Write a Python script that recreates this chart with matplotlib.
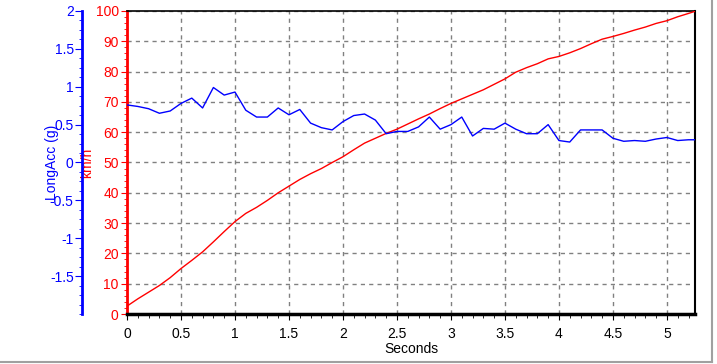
import matplotlib.pyplot as plt
from matplotlib.ticker import MultipleLocator, FormatStrFormatter
from matplotlib.lines import Line2D

plt.rcParams['font.family'] = ['Liberation Sans', 'DejaVu Sans']
plt.rcParams['axes.unicode_minus'] = False

# time in seconds
t = [0.0, 0.1, 0.2, 0.3, 0.4, 0.5, 0.6, 0.7, 0.8, 0.9,
     1.0, 1.1, 1.2, 1.3, 1.4, 1.5, 1.6, 1.7, 1.8, 1.9,
     2.0, 2.1, 2.2, 2.3, 2.4, 2.5, 2.6, 2.7, 2.8, 2.9,
     3.0, 3.1, 3.2, 3.3, 3.4, 3.5, 3.6, 3.7, 3.8, 3.9,
     4.0, 4.1, 4.2, 4.3, 4.4, 4.5, 4.6, 4.7, 4.8, 4.9,
     5.0, 5.1, 5.2, 5.26]

speed_kmh = [2.6, 5.0, 7.2, 9.4, 12.0, 15.0, 17.7, 20.5, 23.8, 27.2,
             30.5, 33.2, 35.2, 37.5, 40.0, 42.2, 44.4, 46.3, 48.0, 50.0,
             51.9, 54.2, 56.4, 58.0, 59.6, 61.0, 62.7, 64.4, 66.0, 67.8,
             69.5, 71.0, 72.5, 74.0, 75.8, 77.6, 79.8, 81.3, 82.6, 84.2,
             85.0, 86.2, 87.6, 89.2, 90.7, 91.6, 92.6, 93.7, 94.7, 95.9,
             96.8, 98.1, 99.2, 99.9]

long_acc = [0.76, 0.74, 0.71, 0.65, 0.68, 0.78, 0.85, 0.72, 0.99, 0.89,
            0.93, 0.69, 0.60, 0.60, 0.72, 0.63, 0.70, 0.52, 0.46, 0.43,
            0.54, 0.62, 0.64, 0.56, 0.38, 0.41, 0.41, 0.47, 0.60, 0.44,
            0.50, 0.60, 0.35, 0.45, 0.44, 0.52, 0.44, 0.38, 0.38, 0.50,
            0.29, 0.27, 0.43, 0.43, 0.43, 0.32, 0.28, 0.29, 0.28, 0.31,
            0.33, 0.29, 0.30, 0.30]

acc_ticks = [-1.5, -1, -0.5, 0, 0.5, 1, 1.5, 2]
acc_labels = ["-1.5", "-1", "-0.5", "0", "0.5", "1", "1.5", "2"]

W, H = 717, 364
fig = plt.figure(figsize=(W / 100, H / 100), dpi=100)
ax = fig.add_axes([127 / W, 50 / H, 568 / W, 303 / H])

red = "#ff0000"
blue = "#0000ff"

ax.plot(t, speed_kmh, color=red, linewidth=1.0, zorder=3)
ax.set_xlim(0, 5.26)
ax.set_ylim(0, 100)
ax.xaxis.set_major_locator(MultipleLocator(0.5))
ax.xaxis.set_minor_locator(MultipleLocator(0.1))
ax.xaxis.set_major_formatter(FormatStrFormatter('%g'))
ax.yaxis.set_major_locator(MultipleLocator(10))
ax.yaxis.set_minor_locator(MultipleLocator(2))
ax.grid(True, which='major', color='#808080', linestyle=(0, (3, 3)), linewidth=1.0)
ax.tick_params(axis='x', which='major', length=4, direction='out', labelsize=10, colors='black', pad=5)
ax.tick_params(axis='x', which='minor', length=3, direction='out')
ax.tick_params(axis='y', which='major', length=4, direction='out', labelsize=10, colors=red, pad=2)
ax.tick_params(axis='y', which='minor', length=2, direction='out', colors=red)
ax.spines['left'].set_color(red)
ax.spines['left'].set_linewidth(2)
ax.spines['bottom'].set_linewidth(2.5)
ax.spines['top'].set_linewidth(1.2)
ax.spines['right'].set_linewidth(1.5)
ax.set_xlabel("Seconds", fontsize=10, labelpad=1)
ax.set_ylabel("km/h", color=red, fontsize=10)
ax.yaxis.set_label_coords(-0.057, 0.5)

ax2 = ax.twinx()
ax2.plot(t, long_acc, color=blue, linewidth=1.0)
ax2.set_ylim(-2, 2)
ax2.yaxis.set_ticks_position('left')
ax2.yaxis.set_label_position('left')
ax2.spines['left'].set_position(('outward', 45 * 0.72))
ax2.spines['left'].set_visible(True)
ax2.spines['left'].set_color(blue)
ax2.spines['left'].set_linewidth(2)
for s in ['right', 'top', 'bottom']:
    ax2.spines[s].set_visible(False)
ax2.set_yticks(acc_ticks)
ax2.set_yticklabels(acc_labels)
ax2.yaxis.set_minor_locator(MultipleLocator(0.125))
ax2.tick_params(axis='y', which='major', length=5, direction='out', labelsize=10, colors=blue, pad=1)
ax2.tick_params(axis='y', which='minor', length=2.5, direction='out', colors=blue)
ax2.set_ylabel("LongAcc (g)", color=blue, fontsize=10)
ax2.yaxis.set_label_coords(-0.12, 0.5)

# window frame
fig.add_artist(Line2D([0, 712 / W], [2 / H, 2 / H], color='#a0a0a0', linewidth=1.5, transform=fig.transFigure))
fig.add_artist(Line2D([712 / W, 712 / W], [2 / H, 1], color='#a0a0a0', linewidth=1.5, transform=fig.transFigure))

fig.savefig("out.png", dpi=100)
